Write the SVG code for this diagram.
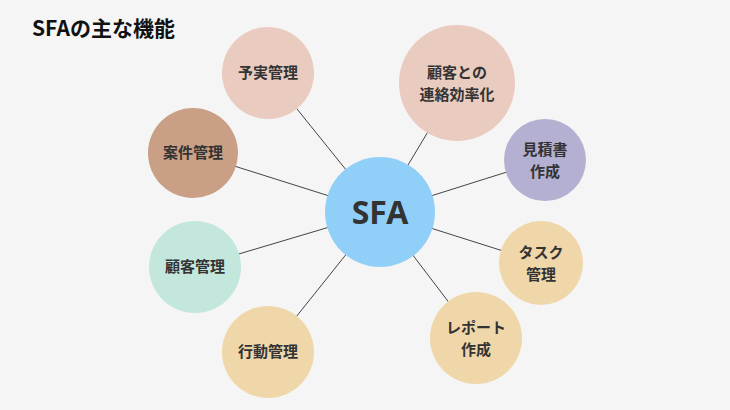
<svg xmlns="http://www.w3.org/2000/svg" width="730" height="410" viewBox="0 0 730 410">
<style>
text{font-family:"Noto Sans CJK JP","Noto Sans",sans-serif;font-weight:bold;fill:#333;text-anchor:middle}
.l{font-size:15px}
line{stroke:#444;stroke-width:1}
</style>
<rect width="730" height="410" fill="#f5f5f5"/>
<text x="32" y="36" style="text-anchor:start;font-size:21px;fill:#111">SFAの主な機能</text>
<g id="connectors">
<line x1="380" y1="212" x2="268" y2="73"/>
<line x1="380" y1="212" x2="457" y2="83"/>
<line x1="380" y1="212" x2="193" y2="153"/>
<line x1="380" y1="212" x2="545" y2="160"/>
<line x1="380" y1="212" x2="195" y2="267"/>
<line x1="380" y1="212" x2="541" y2="263"/>
<line x1="380" y1="212" x2="268" y2="352"/>
<line x1="380" y1="212" x2="476" y2="338"/>
</g>
<g id="n1"><circle cx="268" cy="73" r="46" fill="#e9cbbf"/><text class="l" x="268" y="78">予実管理</text></g>
<g id="n2"><circle cx="457" cy="83" r="58" fill="#e9cbbf"/><text class="l" x="457" y="78">顧客との</text><text class="l" x="457" y="100">連絡効率化</text></g>
<g id="n3"><circle cx="193" cy="153" r="45" fill="#c9a085"/><text class="l" x="193" y="158">案件管理</text></g>
<g id="n4"><circle cx="545" cy="160" r="41" fill="#b3b0d1"/><text class="l" x="545" y="155">見積書</text><text class="l" x="545" y="177">作成</text></g>
<g id="n5"><circle cx="195" cy="267" r="46" fill="#c3e7dd"/><text class="l" x="195" y="272">顧客管理</text></g>
<g id="n6"><circle cx="541" cy="263" r="42" fill="#f0d7a9"/><text class="l" x="541" y="258">タスク</text><text class="l" x="541" y="280">管理</text></g>
<g id="n7"><circle cx="268" cy="352" r="46" fill="#f0d7a9"/><text class="l" x="268" y="357">行動管理</text></g>
<g id="n8"><circle cx="476" cy="338" r="46" fill="#f0d7a9"/><text class="l" x="476" y="333">レポート</text><text class="l" x="476" y="355">作成</text></g>
<g id="center"><circle cx="380" cy="212" r="55" fill="#90cff8"/><text x="380" y="224" style="font-size:32px;font-family:'Noto Sans',sans-serif">SFA</text></g>
</svg>
